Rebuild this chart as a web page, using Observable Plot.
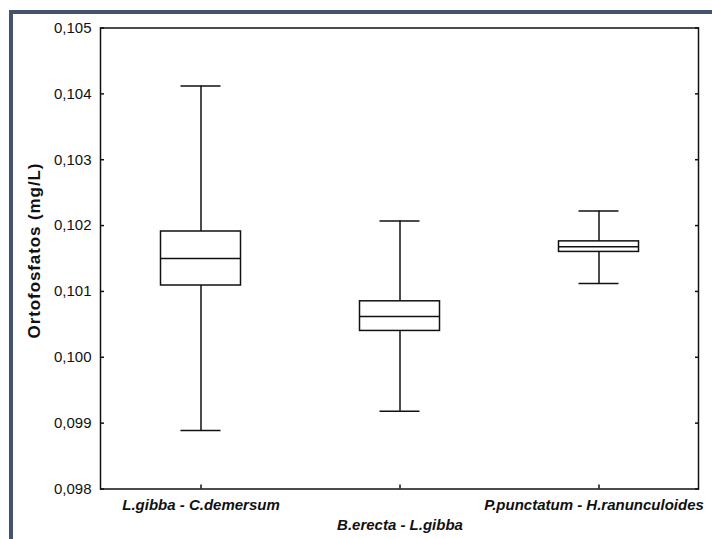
<!DOCTYPE html>
<html>
<head>
<meta charset="utf-8">
<script src="https://cdn.jsdelivr.net/npm/d3@7"></script>
<script src="https://cdn.jsdelivr.net/npm/@observablehq/plot@0.6"></script>
<style>
  html, body { margin: 0; padding: 0; background: #fff; }
  #wrap { position: relative; width: 712px; height: 539px; overflow: hidden; background: #fff; }
  #border { position: absolute; left: 9px; top: 10px; width: 720px; height: 540px;
            border-left: 4px solid #44546a; border-top: 4px solid #44546a; pointer-events: none; }
  #chart { position: absolute; left: 0; top: 0; }
  svg { font-family: "Liberation Sans", Arial, sans-serif; }
  g[aria-label="y-axis tick label"] text { font-size: 15px; }
  g.ylab text { font-size: 17px; font-weight: bold; letter-spacing: 0.9px; }
  g.xlab text { font-size: 15px; font-weight: bold; font-style: italic; }
</style>
</head>
<body>
<div id="wrap"><div id="chart"></div><div id="border"></div></div>
<script>
const categories = ["L.gibba - C.demersum", "B.erecta - L.gibba", "P.punctatum - H.ranunculoides"];
const whiskerLow  = [0.09889, 0.09918, 0.10112];
const q1          = [0.10109, 0.10040, 0.10160];
const median      = [0.10150, 0.10062, 0.10168];
const q3          = [0.10191, 0.10085, 0.10176];
const whiskerHigh = [0.10412, 0.10207, 0.10222];
const yTicks = [0.098, 0.099, 0.100, 0.101, 0.102, 0.103, 0.104, 0.105];
const yLabel = ["Ortofosfatos (mg/L)"];

const data = categories.map((c, i) => ({
  cat: c, i, lo: whiskerLow[i], q1: q1[i], med: median[i], q3: q3[i], hi: whiskerHigh[i]
}));

const fmt = d => d3.format(".3f")(d).replace(".", ",");
const ink = "#111";

const plot = Plot.plot({
  width: 712,
  height: 539,
  marginTop: 27.5,
  marginBottom: 50.5,
  marginLeft: 100,
  marginRight: 14,
  style: {background: "transparent", color: ink},
  x: {type: "band", domain: categories, padding: 0},
  y: {domain: [0.098, 0.105]},
  marks: [
    Plot.axisY({anchor: "left", ticks: yTicks, tickSize: -4, tickPadding: 13, tickFormat: fmt, label: null, strokeWidth: 1.5}),
    Plot.axisY({anchor: "right", ticks: yTicks, tickSize: -4, tickFormat: () => "", label: null, strokeWidth: 1.5}),
    Plot.axisX({anchor: "bottom", tickSize: -4, tickFormat: () => "", label: null, strokeWidth: 1.5}),
    Plot.ruleX(data, {x: "cat", y1: "lo", y2: "hi", stroke: ink, strokeWidth: 1.5}),
    Plot.barY(data, {x: "cat", y1: "q1", y2: "q3", fill: "white", stroke: ink, strokeWidth: 1.5, insetLeft: 59.5, insetRight: 59.5}),
    Plot.tickY(data, {x: "cat", y: "med", stroke: ink, strokeWidth: 1.5, insetLeft: 59.5, insetRight: 59.5}),
    Plot.tickY(data, {x: "cat", y: "lo", stroke: ink, strokeWidth: 1.5, insetLeft: 79.5, insetRight: 79.5}),
    Plot.tickY(data, {x: "cat", y: "hi", stroke: ink, strokeWidth: 1.5, insetLeft: 79.5, insetRight: 79.5}),
    Plot.frame({stroke: ink, strokeWidth: 1.5}),
    Plot.text(yLabel, {text: d => d, frameAnchor: "left", textAnchor: "middle", rotate: -90, dx: -66, dy: -8, fill: ink, className: "ylab"}),
    Plot.text(data.filter(d => d.i === 0), {x: "cat", text: "cat", frameAnchor: "bottom", dy: 21, fill: ink, className: "xlab"}),
    Plot.text(data.filter(d => d.i === 1), {x: "cat", text: "cat", frameAnchor: "bottom", dy: 41, fill: ink, className: "xlab"}),
    Plot.text(data.filter(d => d.i === 2), {x: "cat", text: "cat", frameAnchor: "bottom", dy: 21, dx: -5, fill: ink, className: "xlab"})
  ]
});
document.getElementById("chart").appendChild(plot);
</script>
</body>
</html>
